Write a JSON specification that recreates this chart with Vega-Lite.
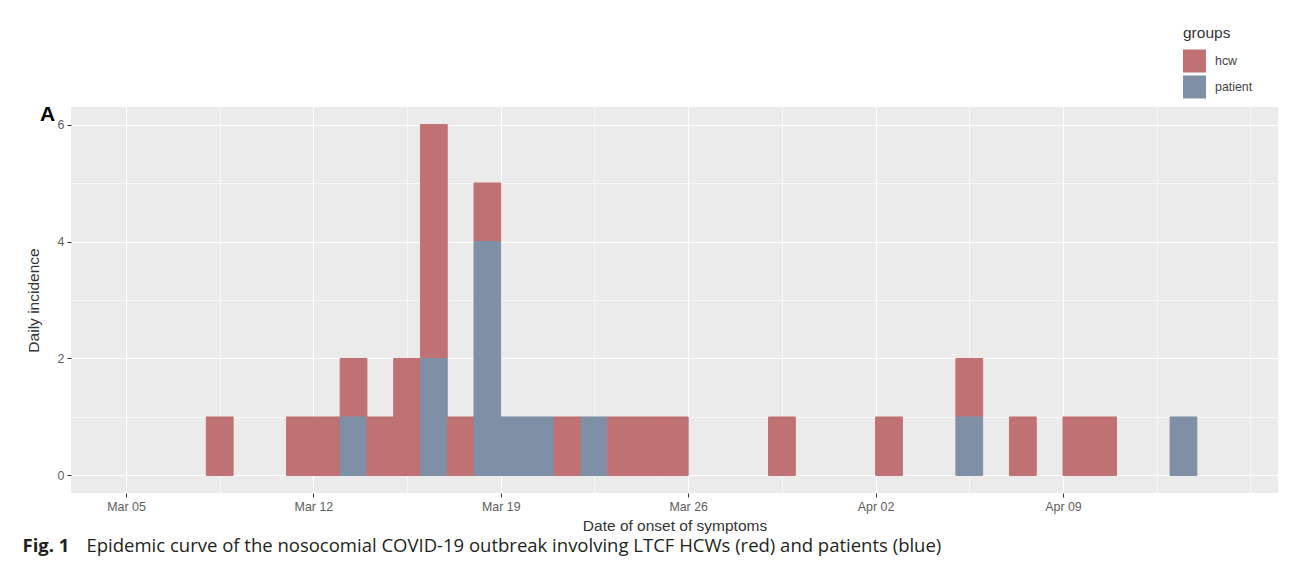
{
  "$schema": "https://vega.github.io/schema/vega-lite/v6.json",
  "width": 1207,
  "height": 386,
  "autosize": {"type": "none"},
  "padding": {"left": 71, "top": 107, "right": 12, "bottom": 85},
  "background": "white",
  "title": {
    "text": "A",
    "anchor": "start",
    "frame": "group",
    "orient": "top",
    "offset": 0,
    "dx": -31,
    "dy": 116,
    "baseline": "alphabetic",
    "font": "Liberation Sans",
    "fontSize": 21,
    "fontWeight": "bold",
    "color": "#000000"
  },
  "data": {
    "values": [
      {"start": "2020-03-08", "end": "2020-03-09", "group": "hcw", "count": 1},
      {"start": "2020-03-11", "end": "2020-03-12", "group": "hcw", "count": 1},
      {"start": "2020-03-12", "end": "2020-03-13", "group": "hcw", "count": 1},
      {"start": "2020-03-13", "end": "2020-03-14", "group": "hcw", "count": 1},
      {"start": "2020-03-13", "end": "2020-03-14", "group": "patient", "count": 1},
      {"start": "2020-03-14", "end": "2020-03-15", "group": "hcw", "count": 1},
      {"start": "2020-03-15", "end": "2020-03-16", "group": "hcw", "count": 2},
      {"start": "2020-03-16", "end": "2020-03-17", "group": "hcw", "count": 4},
      {"start": "2020-03-16", "end": "2020-03-17", "group": "patient", "count": 2},
      {"start": "2020-03-17", "end": "2020-03-18", "group": "hcw", "count": 1},
      {"start": "2020-03-18", "end": "2020-03-19", "group": "hcw", "count": 1},
      {"start": "2020-03-18", "end": "2020-03-19", "group": "patient", "count": 4},
      {"start": "2020-03-19", "end": "2020-03-20", "group": "patient", "count": 1},
      {"start": "2020-03-20", "end": "2020-03-21", "group": "patient", "count": 1},
      {"start": "2020-03-21", "end": "2020-03-22", "group": "hcw", "count": 1},
      {"start": "2020-03-22", "end": "2020-03-23", "group": "patient", "count": 1},
      {"start": "2020-03-23", "end": "2020-03-24", "group": "hcw", "count": 1},
      {"start": "2020-03-24", "end": "2020-03-25", "group": "hcw", "count": 1},
      {"start": "2020-03-25", "end": "2020-03-26", "group": "hcw", "count": 1},
      {"start": "2020-03-29", "end": "2020-03-30", "group": "hcw", "count": 1},
      {"start": "2020-04-02", "end": "2020-04-03", "group": "hcw", "count": 1},
      {"start": "2020-04-05", "end": "2020-04-06", "group": "hcw", "count": 1},
      {"start": "2020-04-05", "end": "2020-04-06", "group": "patient", "count": 1},
      {"start": "2020-04-07", "end": "2020-04-08", "group": "hcw", "count": 1},
      {"start": "2020-04-09", "end": "2020-04-10", "group": "hcw", "count": 1},
      {"start": "2020-04-10", "end": "2020-04-11", "group": "hcw", "count": 1},
      {"start": "2020-04-13", "end": "2020-04-14", "group": "patient", "count": 1}
    ]
  },
  "layer": [
    {
      "transform": [
        {"stack": "count", "groupby": ["start"], "sort": [{"field": "group", "order": "descending"}], "as": ["y0", "y1"], "offset": "zero"}
      ],
      "mark": {"type": "bar", "strokeWidth": 1},
      "encoding": {
        "x": {
          "field": "start",
          "type": "temporal",
          "scale": {
            "type": "utc",
            "domain": [
              {"year": 2020, "month": 3, "date": 2, "hours": 22, "minutes": 42, "utc": true},
              {"year": 2020, "month": 4, "date": 17, "hours": 0, "minutes": 45, "utc": true}
            ]
          },
          "axis": {
            "orient": "bottom",
            "values": [
              {"year": 2020, "month": 3, "date": 5, "utc": true},
              {"year": 2020, "month": 3, "date": 8, "hours": 12, "utc": true},
              {"year": 2020, "month": 3, "date": 12, "utc": true},
              {"year": 2020, "month": 3, "date": 15, "hours": 12, "utc": true},
              {"year": 2020, "month": 3, "date": 19, "utc": true},
              {"year": 2020, "month": 3, "date": 22, "hours": 12, "utc": true},
              {"year": 2020, "month": 3, "date": 26, "utc": true},
              {"year": 2020, "month": 3, "date": 29, "hours": 12, "utc": true},
              {"year": 2020, "month": 4, "date": 2, "utc": true},
              {"year": 2020, "month": 4, "date": 5, "hours": 12, "utc": true},
              {"year": 2020, "month": 4, "date": 9, "utc": true},
              {"year": 2020, "month": 4, "date": 12, "hours": 12, "utc": true},
              {"year": 2020, "month": 4, "date": 16, "utc": true}
            ],
            "labelExpr": "(utchours(datum.value) == 0 && datum.value < utc(2020,3,15)) ? utcFormat(datum.value, '%b %d') : ''",
            "labelOverlap": false,
            "labelFlush": false,
            "labelFont": "Liberation Sans",
            "labelFontSize": 12.4,
            "labelColor": "#5E5E5E",
            "labelPadding": 3,
            "domain": false,
            "grid": true,
            "gridColor": "#FFFFFF",
            "gridWidth": {"condition": {"test": "utchours(datum.value) == 0 && datum.value < utc(2020,3,15)", "value": 1.2}, "value": 0.6},
            "ticks": true,
            "tickColor": "#333333",
            "tickSize": 4,
            "tickWidth": 1,
            "tickOpacity": {"condition": {"test": "utchours(datum.value) == 0 && datum.value < utc(2020,3,15)", "value": 1}, "value": 0},
            "title": "Date of onset of symptoms",
            "titleFont": "Liberation Sans",
            "titleFontSize": 15.5,
            "titleFontWeight": "normal",
            "titleColor": "#333333",
            "titleX": 603.5,
            "titleY": 37,
            "titleAlign": "center",
            "titleBaseline": "alphabetic"
          }
        },
        "x2": {"field": "end"},
        "y": {
          "field": "y1",
          "type": "quantitative",
          "scale": {"domain": [-0.3, 6.3], "nice": false, "zero": false},
          "axis": {
            "orient": "left",
            "values": [0, 1, 2, 3, 4, 5, 6],
            "labelExpr": "datum.value % 2 == 0 ? datum.label : ''",
            "labelOverlap": false,
            "labelFlush": false,
            "labelFont": "Liberation Sans",
            "labelFontSize": 12.4,
            "labelColor": "#5E5E5E",
            "labelPadding": 3,
            "domain": false,
            "grid": true,
            "gridColor": "#FFFFFF",
            "gridWidth": {"condition": {"test": "datum.value % 2 == 0", "value": 1.2}, "value": 0.6},
            "ticks": true,
            "tickColor": "#333333",
            "tickSize": 4,
            "tickWidth": 1,
            "tickOpacity": {"condition": {"test": "datum.value % 2 == 0", "value": 1}, "value": 0},
            "title": "Daily incidence",
            "titleFont": "Liberation Sans",
            "titleFontSize": 15.5,
            "titleFontWeight": "normal",
            "titleColor": "#333333",
            "titleAngle": 270,
            "titleX": -38,
            "titleY": 193,
            "titleAlign": "center",
            "titleBaseline": "middle"
          }
        },
        "y2": {"field": "y0"},
        "color": {
          "field": "group",
          "type": "nominal",
          "scale": {"domain": ["hcw", "patient"], "range": ["#C07173", "#7F90A6"]},
          "legend": {
            "orient": "none",
            "legendX": 1112,
            "legendY": -81,
            "title": "groups",
            "titleFont": "Liberation Sans",
            "titleFontSize": 15.5,
            "titleFontWeight": "normal",
            "titleColor": "#333333",
            "titlePadding": 8,
            "labelFont": "Liberation Sans",
            "labelFontSize": 12.4,
            "labelColor": "#444444",
            "labelOffset": 9,
            "symbolType": "square",
            "symbolSize": 529,
            "symbolStrokeWidth": 0,
            "rowPadding": 3,
            "padding": 0
          }
        },
        "stroke": {
          "field": "group",
          "type": "nominal",
          "scale": {"domain": ["hcw", "patient"], "range": ["#C07173", "#7F90A6"]},
          "legend": null
        }
      }
    },
    {
      "mark": {"type": "point", "opacity": 0},
      "encoding": {
        "x": {
          "field": "start",
          "type": "temporal",
          "scale": {
            "type": "utc",
            "domain": [
              {"year": 2020, "month": 3, "date": 2, "hours": 22, "minutes": 42, "utc": true},
              {"year": 2020, "month": 4, "date": 17, "hours": 0, "minutes": 45, "utc": true}
            ]
          },
          "axis": {
            "orient": "bottom",
            "labels": false,
            "ticks": false,
            "grid": false,
            "domain": false,
            "title": "Epidemic curve of the nosocomial COVID-19 outbreak involving LTCF HCWs (red) and patients (blue)",
            "titleFont": "Open Sans",
            "titleFontSize": 18.5,
            "titleFontWeight": "normal",
            "titleColor": "#231F20",
            "titleX": 15,
            "titleY": 58,
            "titleAlign": "left",
            "titleBaseline": "alphabetic"
          }
        },
        "y": {
          "field": "count",
          "type": "quantitative",
          "scale": {"domain": [-0.3, 6.3], "nice": false, "zero": false},
          "axis": {
            "orient": "left",
            "labels": false,
            "ticks": false,
            "grid": false,
            "domain": false,
            "title": "Fig. 1",
            "titleFont": "Open Sans",
            "titleFontSize": 18.5,
            "titleFontWeight": "bold",
            "titleColor": "#231F20",
            "titleAngle": 0,
            "titleX": -49,
            "titleY": 444,
            "titleAlign": "left",
            "titleBaseline": "alphabetic"
          }
        }
      }
    }
  ],
  "resolve": {"axis": {"x": "independent", "y": "independent"}},
  "config": {"view": {"fill": "#EBEBEB", "stroke": null}}
}
